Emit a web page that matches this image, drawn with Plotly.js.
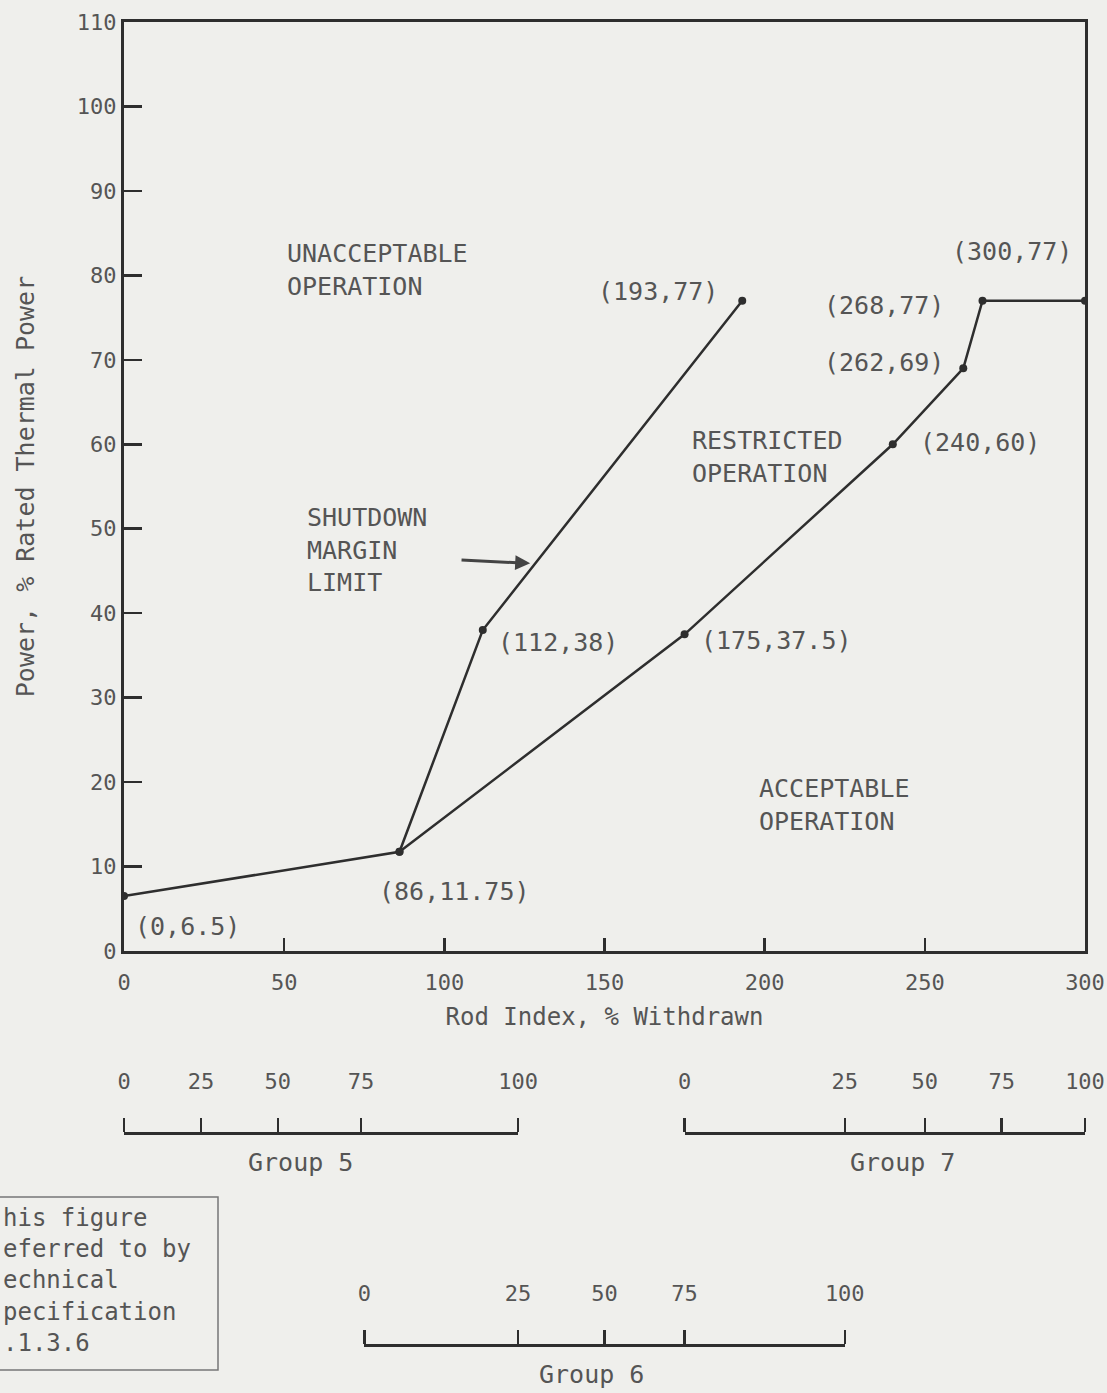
<!DOCTYPE html>
<html><head><meta charset="utf-8">
<script src="https://cdn.plot.ly/plotly-3.0.1.min.js"></script>
<style>html,body{margin:0;padding:0;background:#efefec;}#chart{width:1107px;height:1393px;}</style>
</head><body><div id="chart"></div>
<script>
// ---- data ----
const limitRodIndex = [0, 86, 112, 193];
const limitPower = [6.5, 11.75, 38, 77];
const restrictRodIndex = [86, 175, 240, 262, 268, 300];
const restrictPower = [11.75, 37.5, 60, 69, 77, 77];
const xTickVals = [0, 50, 100, 150, 200, 250, 300];
const yTickVals = [0, 10, 20, 30, 40, 50, 60, 70, 80, 90, 100, 110];
const groupNames = ['Group 5', 'Group 6', 'Group 7'];
const groupTickText = ['0', '25', '50', '75', '100'];
const group5RodIndex = [0, 24, 48, 74, 123];
const group6RodIndex = [75, 123, 150, 175, 225];
const group7RodIndex = [175, 225, 250, 274, 300];
const regionLabels = ['UNACCEPTABLE<br>OPERATION', 'RESTRICTED<br>OPERATION', 'SHUTDOWN<br>MARGIN<br>LIMIT', 'ACCEPTABLE<br>OPERATION'];
const noteLines = ['his figure', 'eferred to by', 'echnical', 'pecification', '.1.3.6'];
const xTitle = 'Rod Index, % Withdrawn';
const yTitle = 'Power, % Rated Thermal Power';

// ---- styling ----
const FONT = 'DejaVu Sans Mono, monospace';
const TXT = '#555555';
const INK = '#2e2e2e';
const BG = '#efefec';
const W = 1107, H = 1393, ML = 124, MR = 22, MT = 22, MB = 0;
const plotH = H - MT - MB, plotW = W - ML - MR;
const py = p => (H - MB - p) / plotH;   // page pixel y -> paper
const px = p => (p - ML) / plotW;        // page pixel x -> paper
const XMAX = 300;
const AXIS_BOTTOM_PX = 951;

const traces = [
  {x: limitRodIndex, y: limitPower, mode: 'lines+markers', line: {color: INK, width: 2.5},
   marker: {color: INK, size: 8}, hoverinfo: 'x+y', showlegend: false},
  {x: restrictRodIndex, y: restrictPower, mode: 'lines+markers', line: {color: INK, width: 2.5},
   marker: {color: INK, size: 8}, hoverinfo: 'x+y', showlegend: false}
];

// point labels (offsets in px)
const labelPts = [
  [limitRodIndex[0], limitPower[0], 63, -30],
  [limitRodIndex[1], limitPower[1], 55, -40],
  [limitRodIndex[2], limitPower[2], 75, -12],
  [limitRodIndex[3], limitPower[3], -84, 9],
  [restrictRodIndex[1], restrictPower[1], 92, -6],
  [restrictRodIndex[2], restrictPower[2], 87, 2],
  [restrictRodIndex[3], restrictPower[3], -79, 6],
  [restrictRodIndex[4], restrictPower[4], -98, -5],
  [restrictRodIndex[5], restrictPower[5], -73, 49]
];
const annotations = labelPts.map(p => ({
  x: p[0], y: p[1], xref: 'x', yref: 'y', text: '(' + p[0] + ',' + p[1] + ')',
  showarrow: false, xshift: p[2], yshift: p[3],
  font: {family: FONT, size: 25, color: TXT}
}));

const regionPos = [[50.3, 80.6], [176.7, 58.5], [56.5, 47.5], [197.6, 17.3]];
regionLabels.forEach((t, i) => annotations.push({
  x: regionPos[i][0], y: regionPos[i][1], xref: 'x', yref: 'y', text: t,
  showarrow: false, xanchor: 'left', yanchor: 'middle', align: 'left',
  font: {family: FONT, size: 25, color: TXT}
}));

// arrow from shutdown margin label to the limit line
annotations.push({x: 126.8, y: 45.9, ax: 104.9, ay: 46.3, xref: 'x', yref: 'y', axref: 'x', ayref: 'y',
  text: '', showarrow: true, arrowhead: 2, arrowsize: 1, arrowwidth: 3, arrowcolor: '#444'});

// group axes + titles
const groups = [group5RodIndex, group6RodIndex, group7RodIndex];
const groupLineY = [1133, 1345, 1133];
const groupTitleX = [55, 146, 243];
groups.forEach((g, i) => annotations.push({
  x: groupTitleX[i], y: py(groupLineY[i] + 29), xref: 'x', yref: 'paper', text: groupNames[i],
  showarrow: false, xanchor: 'center', yanchor: 'middle', font: {family: FONT, size: 25, color: TXT}
}));

// note box text
annotations.push({x: px(1), y: py(1280), xref: 'paper', yref: 'paper', xanchor: 'left', yanchor: 'middle', align: 'left',
  text: noteLines.join('<br>'), showarrow: false,
  font: {family: FONT, size: 24, color: TXT}});

const layout = {
  width: W, height: H,
  margin: {l: ML, r: MR, t: MT, b: MB, pad: 0},
  paper_bgcolor: BG, plot_bgcolor: 'rgba(0,0,0,0)',
  showlegend: false,
  xaxis: {domain: [0, 1], range: [0, XMAX], anchor: 'y', tickvals: xTickVals,
    ticks: 'inside', ticklen: 13, tickwidth: 2.5, tickcolor: INK, ticklabeloverflow: 'allow',
    ticklabelstandoff: 10,
    showline: true, linewidth: 3, linecolor: INK, mirror: true, showgrid: false, zeroline: false,
    tickfont: {family: FONT, size: 22, color: TXT},
    title: {text: xTitle, standoff: 14, font: {family: FONT, size: 24, color: TXT}}},
  yaxis: {domain: [py(AXIS_BOTTOM_PX), 1], range: [0, 110], anchor: 'x', tickvals: yTickVals,
    ticks: 'inside', ticklen: 18, tickwidth: 2.5, tickcolor: INK, ticklabeloverflow: 'allow',
    showline: true, linewidth: 3, linecolor: INK, mirror: true, showgrid: false, zeroline: false,
    tickfont: {family: FONT, size: 22, color: TXT},
    title: {text: yTitle, standoff: 36, font: {family: FONT, size: 25, color: TXT}}},
  // hidden helper y-axis for the group scales
  yaxis2: {domain: [0, py(1160)], range: [0, 1], anchor: 'x2', visible: false, fixedrange: true},
  annotations: annotations,
  shapes: [{type: 'rect', xref: 'paper', yref: 'paper', x0: px(-20), x1: px(218), y0: py(1370), y1: py(1197),
    line: {color: '#777', width: 1.5}}]
};

groups.forEach((g, i) => {
  const ax = 'xaxis' + (i + 2);
  layout[ax] = {
    domain: [g[0] / XMAX, g[g.length - 1] / XMAX], range: [g[0], g[g.length - 1]],
    anchor: 'free', position: py(groupLineY[i]), side: 'top',
    tickvals: g, ticktext: groupTickText, ticks: 'outside', ticklen: 14, tickwidth: 2.5, tickcolor: INK,
    ticklabelstandoff: 20, ticklabeloverflow: 'allow',
    showline: true, linewidth: 3, linecolor: INK, showgrid: false, zeroline: false, fixedrange: true,
    tickfont: {family: FONT, size: 22, color: TXT}
  };
  // invisible carrier trace so the free axis is drawn
  traces.push({x: g, y: g.map(() => null), xaxis: 'x' + (i + 2), yaxis: 'y2', mode: 'markers',
    marker: {opacity: 0}, hoverinfo: 'skip', showlegend: false});
});

Plotly.newPlot('chart', traces, layout, {displayModeBar: false, staticPlot: true});
</script>
</body></html>
